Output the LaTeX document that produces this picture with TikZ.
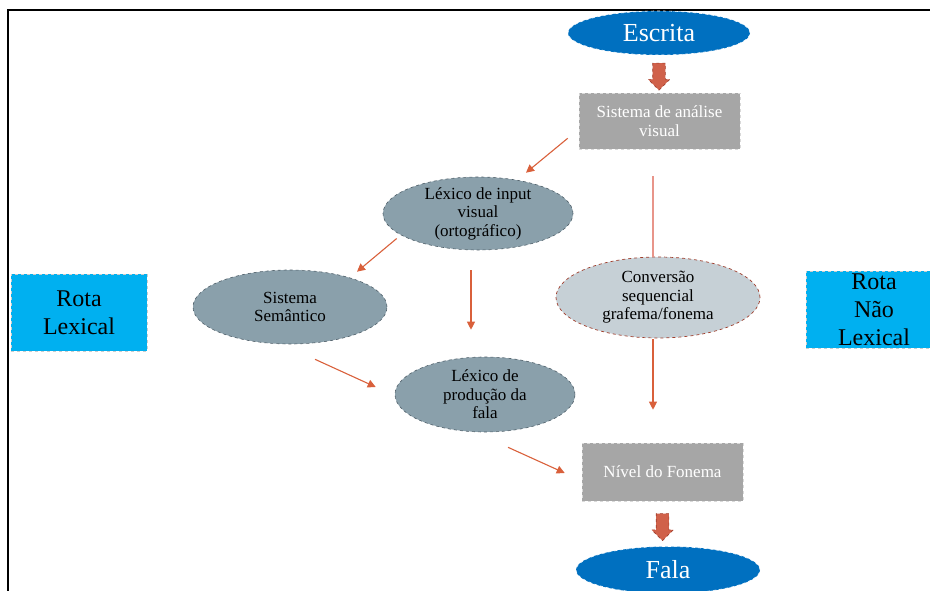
\documentclass[tikz,border=0pt]{standalone}
\usepackage{fontspec}
\setmainfont{Liberation Serif}
\usetikzlibrary{shapes.geometric,shapes.arrows,arrows.meta,calc}
\definecolor{escblue}{HTML}{0070C0}
\definecolor{arrred}{HTML}{D0614A}
\definecolor{arrdark}{HTML}{A03E2C}
\definecolor{boxgray}{HTML}{A6A6A6}
\definecolor{slate}{HTML}{8AA0AB}
\definecolor{slatedark}{HTML}{4E5E68}
\definecolor{lightslate}{HTML}{C6D0D6}
\definecolor{rotablue}{HTML}{00B0F0}
\definecolor{connred}{HTML}{D9603B}
\definecolor{connlight}{HTML}{E8958A}
\tikzset{
  endnode/.style={ellipse, fill=escblue, draw=white, dashed, line width=0.6pt, text=white,
    font=\fontsize{26}{28}\selectfont, minimum width=182pt, minimum height=44pt, inner sep=0pt},
  graybox/.style={rectangle, fill=boxgray, draw=gray!30, dashed, line width=0.6pt, text=white,
    font=\fontsize{17}{19}\selectfont, align=center, inner sep=0pt},
  lexell/.style={ellipse, fill=slate, draw=slatedark, dashed, line width=0.6pt, text=black,
    font=\fontsize{17}{18.5}\selectfont, align=center, inner xsep=0pt, inner ysep=-5pt},
  convell/.style={ellipse, fill=lightslate, draw=arrdark, dashed, line width=0.7pt, text=black,
    font=\fontsize{17}{18.5}\selectfont, align=center, inner xsep=0pt, inner ysep=-5pt},
  rotabox/.style={rectangle, fill=rotablue, draw=gray!40, dashed, line width=0.5pt, text=black,
    font=\fontsize{24}{28}\selectfont, align=center, inner sep=0pt, minimum width=136pt},
  blockarr/.style={single arrow, fill=arrred, draw=arrdark, dashed, line width=0.6pt,
    inner sep=6pt, minimum height=27pt, minimum width=21pt, single arrow head extend=4.5pt,
    single arrow head indent=0pt, rotate=-90},
  conn/.style={draw=connred, line width=1.1pt, -{Triangle[length=8pt,width=8pt]}},
  connplain/.style={draw=connlight, line width=2pt},
}
\begin{document}
\begin{tikzpicture}[x=1pt,y=-1pt]
\useasboundingbox (0,0) rectangle (930,591);
% frame
\draw[line width=1.6pt, black] (8,591) -- (8,10) -- (930,10);

% nodes
\node[endnode] (esc) at (659,33) {Escrita};
\node[blockarr] (ba1) at (659,73.5) {};
\node[graybox, minimum width=161pt, minimum height=56pt] (sav) at (659.5,121) {Sistema de análise\\visual};
\node[lexell, minimum width=190pt, minimum height=73pt] (liv) at (478,213.5) {Léxico de input\\visual\\(ortográfico)};
\node[lexell, minimum width=194pt, minimum height=74pt] (sem) at (290,307) {Sistema\\Semântico};
\node[convell, minimum width=204pt, minimum height=81pt] (conv) at (658,297.5) {Conversão\\sequencial\\grafema/fonema};
\node[lexell, minimum width=180pt, minimum height=75pt] (lpf) at (485,394.5) {Léxico de\\produção da\\fala};
\node[graybox, minimum width=161pt, minimum height=58pt] (nf) at (662.5,472) {Nível do Fonema};
\node[blockarr] (ba2) at (662.5,524) {};
\node[endnode, minimum width=184pt, minimum height=47pt] (fala) at (668,570) {Fala};
\node[rotabox, minimum height=77pt] (rl) at (79,312.5) {Rota\\Lexical};
\node[rotabox, minimum height=77pt] (rnl) at (874,309.5) {Rota\\Não\\Lexical};

% connectors
\draw[conn] ($(sav.south west)+(-11,-11)$) -- ($(liv.north)+(48,-4)$);
\draw[conn] ($(liv.west)+(14,25)$) -- ($(sem.north)+(67,2)$);
\draw[conn] ($(liv.south)+(-7,20)$) -- ($(lpf.north)+(-14,-27)$);
\draw[connplain] ($(sav.south)+(-6.5,27)$) -- ($(conv.north)+(-5,0)$);
\draw[conn] ($(conv.south)+(-5,1)$) -- ($(nf.north)+(-9.5,-33)$);
\draw[conn] ($(sem.south)+(25,15)$) -- ($(lpf.west)+(-19,-7.5)$);
\draw[conn] ($(lpf.south)+(23,15)$) -- ($(nf.west)+(-17,1)$);
\end{tikzpicture}
\end{document}
